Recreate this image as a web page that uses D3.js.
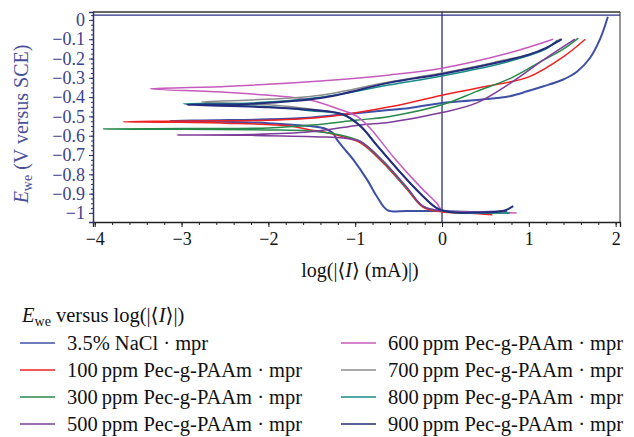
<!DOCTYPE html>
<html>
<head>
<meta charset="utf-8">
<script src="https://cdn.jsdelivr.net/npm/d3@7"></script>
<style>
  body { margin: 0; background: #fff; }
</style>
</head>
<body>
<svg id="chart" width="634" height="437"></svg>
<script>
// polarization curves, points are [log|I| (mA), E (V vs SCE)] in sweep order
var nacl = [[0.75,-0.99],[0.4,-0.995],[0,-0.99],[-0.4,-0.99],[-0.63,-0.985],[-0.75,-0.915],[-0.86,-0.83],[-1.02,-0.725],[-1.14,-0.66],[-1.21,-0.62],[-1.26,-0.585],[-1.37,-0.56],[-1.52,-0.55],[-2.0,-0.535],[-2.6,-0.527],[-3.13,-0.523],
  [-2.6,-0.52],[-2.0,-0.515],[-1.5,-0.505],[-1.14,-0.49],[-0.7,-0.47],[-0.37,-0.456],[0,-0.43],[0.4,-0.415],[0.78,-0.395],[0.98,-0.37],[1.16,-0.345],[1.39,-0.31],[1.55,-0.27],[1.7,-0.20],[1.82,-0.10],[1.91,0.016]];
var ppm100 = [[0.58,-1.01],[0.3,-1.0],[0,-0.995],[-0.22,-0.97],[-0.4,-0.88],[-0.68,-0.74],[-0.94,-0.637],[-1.14,-0.606],[-1.32,-0.585],[-1.52,-0.57],[-1.75,-0.55],[-2.5,-0.535],[-3.2,-0.53],[-3.67,-0.528],
  [-3.2,-0.525],[-2.5,-0.522],[-2.0,-0.52],[-1.3,-0.50],[-0.6,-0.45],[0,-0.39],[0.5,-0.345],[1.0,-0.295],[1.4,-0.19],[1.65,-0.10]];
var ppm300 = [[0.78,-1.0],[0.4,-1.0],[0,-0.99],[-0.22,-0.965],[-0.4,-0.875],[-0.68,-0.735],[-0.94,-0.63],[-1.14,-0.60],[-1.32,-0.585],[-1.52,-0.575],[-2.0,-0.57],[-3.0,-0.567],[-3.9,-0.565],
  [-3.0,-0.563],[-2.0,-0.56],[-1.5,-0.545],[-1.0,-0.52],[-0.6,-0.50],[0,-0.44],[0.4,-0.37],[0.8,-0.30],[1.16,-0.21],[1.4,-0.15],[1.57,-0.094]];
var ppm500 = [[0.65,-1.0],[0.3,-1.0],[0,-0.99],[-0.22,-0.965],[-0.4,-0.87],[-0.68,-0.73],[-0.94,-0.63],[-1.14,-0.612],[-1.4,-0.606],[-2.2,-0.598],[-3.05,-0.596],
  [-2.2,-0.594],[-1.52,-0.58],[-0.94,-0.544],[-0.6,-0.53],[0,-0.48],[0.4,-0.43],[0.78,-0.33],[1.16,-0.21],[1.53,-0.10]];
var ppm600 = [[0.86,-1.0],[0.4,-0.995],[0,-0.985],[-0.06,-0.95],[-0.25,-0.865],[-0.56,-0.71],[-0.83,-0.56],[-0.98,-0.50],[-1.2,-0.46],[-1.52,-0.415],[-1.75,-0.40],[-2.5,-0.375],[-3.36,-0.357],
  [-2.5,-0.345],[-1.4,-0.316],[-0.6,-0.285],[0,-0.25],[0.78,-0.17],[1.28,-0.10]];
var ppm700 = [[0.78,-1.0],[0.4,-1.0],[0.09,-0.995],[-0.06,-0.975],[-0.25,-0.90],[-0.48,-0.79],[-0.75,-0.65],[-0.94,-0.55],[-1.14,-0.49],[-1.52,-0.462],[-2.0,-0.44],[-2.77,-0.425],
  [-2.2,-0.415],[-1.4,-0.39],[-0.6,-0.32],[0,-0.275],[0.6,-0.22],[1.16,-0.155],[1.36,-0.10]];
var ppm800 = [[0.78,-1.0],[0.4,-1.0],[0.09,-0.995],[-0.06,-0.975],[-0.25,-0.90],[-0.48,-0.79],[-0.75,-0.65],[-0.94,-0.55],[-1.14,-0.49],[-1.52,-0.47],[-2.0,-0.45],[-2.98,-0.435],
  [-2.2,-0.43],[-1.4,-0.40],[-0.6,-0.336],[0,-0.29],[0.6,-0.235],[1.0,-0.185],[1.2,-0.15],[1.33,-0.105]];
var ppm900 = [[0.82,-0.965],[0.7,-0.99],[0.4,-0.998],[0.09,-0.995],[-0.06,-0.975],[-0.25,-0.9],[-0.48,-0.79],[-0.75,-0.65],[-0.94,-0.55],[-1.14,-0.49],[-1.52,-0.466],[-2.0,-0.452],[-2.94,-0.44],
  [-2.2,-0.435],[-1.4,-0.405],[-0.6,-0.325],[0,-0.28],[0.6,-0.225],[1.0,-0.18],[1.2,-0.145],[1.38,-0.10]];

var seriesData = [nacl, ppm100, ppm300, ppm500, ppm600, ppm700, ppm800, ppm900];
var seriesNames = ["3.5% NaCl \u00b7 mpr", "100\u2009ppm Pec-g-PAAm \u00b7 mpr", "300\u2009ppm Pec-g-PAAm \u00b7 mpr", "500\u2009ppm Pec-g-PAAm \u00b7 mpr",
  "600\u2009ppm Pec-g-PAAm \u00b7 mpr", "700\u2009ppm Pec-g-PAAm \u00b7 mpr", "800\u2009ppm Pec-g-PAAm \u00b7 mpr", "900\u2009ppm Pec-g-PAAm \u00b7 mpr"];
var seriesColors = ["#3e4fa6", "#ee2224", "#27894a", "#7d3c98", "#c65bbd", "#8c8c8c", "#1a8a88", "#242c7c"];

var xTicks = [-4, -3, -2, -1, 0, 1, 2];
var yTicks = [0, -0.1, -0.2, -0.3, -0.4, -0.5, -0.6, -0.7, -0.8, -0.9, -1];
var refE = 0.025;   // horizontal line near the top
var refLogI = 0;    // vertical line

var serif = "'Liberation Serif', 'DejaVu Serif', serif";
var svg = d3.select("#chart");
var mLeft = 93, mRight = 620, mTop = 12, mBottom = 222;

var x = d3.scaleLinear().domain([-4.02, 2.05]).range([mLeft, mRight]);
var y = d3.scaleLinear().domain([-1.047, 0.041]).range([mBottom, mTop]);

svg.append("clipPath").attr("id", "clip")
  .append("rect").attr("x", mLeft).attr("y", mTop).attr("width", mRight - mLeft).attr("height", mBottom - mTop);

// frame
svg.append("line").attr("x1", mLeft).attr("x2", mRight).attr("y1", mTop).attr("y2", mTop)
  .attr("stroke", "#333").attr("stroke-width", 1.5);
svg.append("line").attr("x1", mRight).attr("x2", mRight).attr("y1", mTop).attr("y2", mBottom)
  .attr("stroke", "#555").attr("stroke-width", 1.2);

// reference lines
svg.append("line").attr("x1", mLeft).attr("x2", mRight).attr("y1", y(refE)).attr("y2", y(refE))
  .attr("stroke", "#2a2f85").attr("stroke-width", 1.3);
svg.append("line").attr("x1", x(refLogI)).attr("x2", x(refLogI)).attr("y1", mTop).attr("y2", mBottom)
  .attr("stroke", "#2a2f85").attr("stroke-width", 1.3);

// curves
var line = d3.line()
  .x(function(d) { return x(d[0]); })
  .y(function(d) { return y(d[1]); })
  .curve(d3.curveCatmullRom.alpha(0.5));

svg.append("g").attr("clip-path", "url(#clip)")
  .selectAll("path")
  .data(seriesData)
  .enter()
  .append("path")
    .attr("d", line)
    .attr("fill", "none")
    .attr("stroke", function(d, i) { return seriesColors[i]; })
    .attr("stroke-width", function(d, i) { return (i == 0 || i == 7) ? 2 : 1.5; })
    .attr("stroke-linejoin", "round");

// x axis
var xAxis = svg.append("g").attr("transform", "translate(0," + mBottom + ")")
  .call(d3.axisBottom(x).tickValues(xTicks).tickSize(5).tickFormat(d3.format("d")));
xAxis.select(".domain").attr("stroke", "#222").attr("stroke-width", 1.3);
xAxis.selectAll("text").attr("font-family", serif).attr("font-size", 18).attr("fill", "#111").attr("dy", "0.85em");
xAxis.selectAll("line").attr("stroke", "#222");
svg.append("g").attr("transform", "translate(0," + mBottom + ")")
  .call(d3.axisBottom(x).tickValues(d3.range(-4, 2.01, 0.2)).tickSize(3).tickFormat(""))
  .call(function(g) { g.select(".domain").remove(); g.selectAll("line").attr("stroke", "#222"); });

// y axis
var yAxis = svg.append("g").attr("transform", "translate(" + mLeft + ",0)")
  .call(d3.axisLeft(y).tickValues(yTicks).tickSize(4).tickFormat(d3.format(".1~f")));
yAxis.select(".domain").attr("stroke", "#2f3470").attr("stroke-width", 1.5);
yAxis.selectAll("text").attr("font-family", serif).attr("font-size", 18).attr("fill", "#3b3f8f").attr("x", -8);
yAxis.selectAll("line").attr("stroke", "#2f3470");
svg.append("g").attr("transform", "translate(" + mLeft + ",0)")
  .call(d3.axisLeft(y).tickValues(d3.range(-1, 0.03, 0.025)).tickSize(2).tickFormat(""))
  .call(function(g) { g.select(".domain").remove(); g.selectAll("line").attr("stroke", "#2f3470"); });

// axis titles
var xt = svg.append("text").attr("x", 360).attr("y", 277)
  .attr("text-anchor", "middle").attr("font-family", serif).attr("font-size", 20).attr("fill", "#111");
xt.append("tspan").text("log(|\u27e8");
xt.append("tspan").attr("font-style", "italic").text("I");
xt.append("tspan").text("\u27e9 (mA)|)");

var yt = svg.append("text").attr("transform", "translate(28,124) rotate(-90)")
  .attr("text-anchor", "middle").attr("font-family", serif).attr("font-size", 20).attr("fill", "#4a4f9a");
yt.append("tspan").attr("font-style", "italic").text("E");
yt.append("tspan").attr("font-size", 14).attr("dy", 4).text("we");
yt.append("tspan").attr("dy", -4).text(" (V versus SCE)");

// legend
var lt = svg.append("text").attr("x", 22).attr("y", 322).attr("font-family", serif).attr("font-size", 20.5).attr("fill", "#111");
lt.append("tspan").attr("font-style", "italic").text("E");
lt.append("tspan").attr("font-size", 14).attr("dy", 4).text("we");
lt.append("tspan").attr("dy", -4).text(" versus log(|\u27e8");
lt.append("tspan").attr("font-style", "italic").text("I");
lt.append("tspan").text("\u27e9|)");

var legend = svg.append("g").selectAll("g")
  .data(seriesNames)
  .enter()
  .append("g")
    .attr("transform", function(d, i) {
      var col = i < 4 ? 0 : 1;
      return "translate(" + (col ? 341 : 20) + "," + (343 + (i % 4) * 27) + ")";
    });
legend.append("line").attr("x1", 0).attr("x2", 35).attr("y1", 0).attr("y2", 0)
  .attr("stroke", function(d, i) { return seriesColors[i]; }).attr("stroke-width", 1.3);
legend.append("text").attr("x", 47).attr("y", 6.5).attr("font-family", serif).attr("font-size", 20.5).attr("fill", "#111")
  .text(function(d) { return d; });
</script>
</body>
</html>
